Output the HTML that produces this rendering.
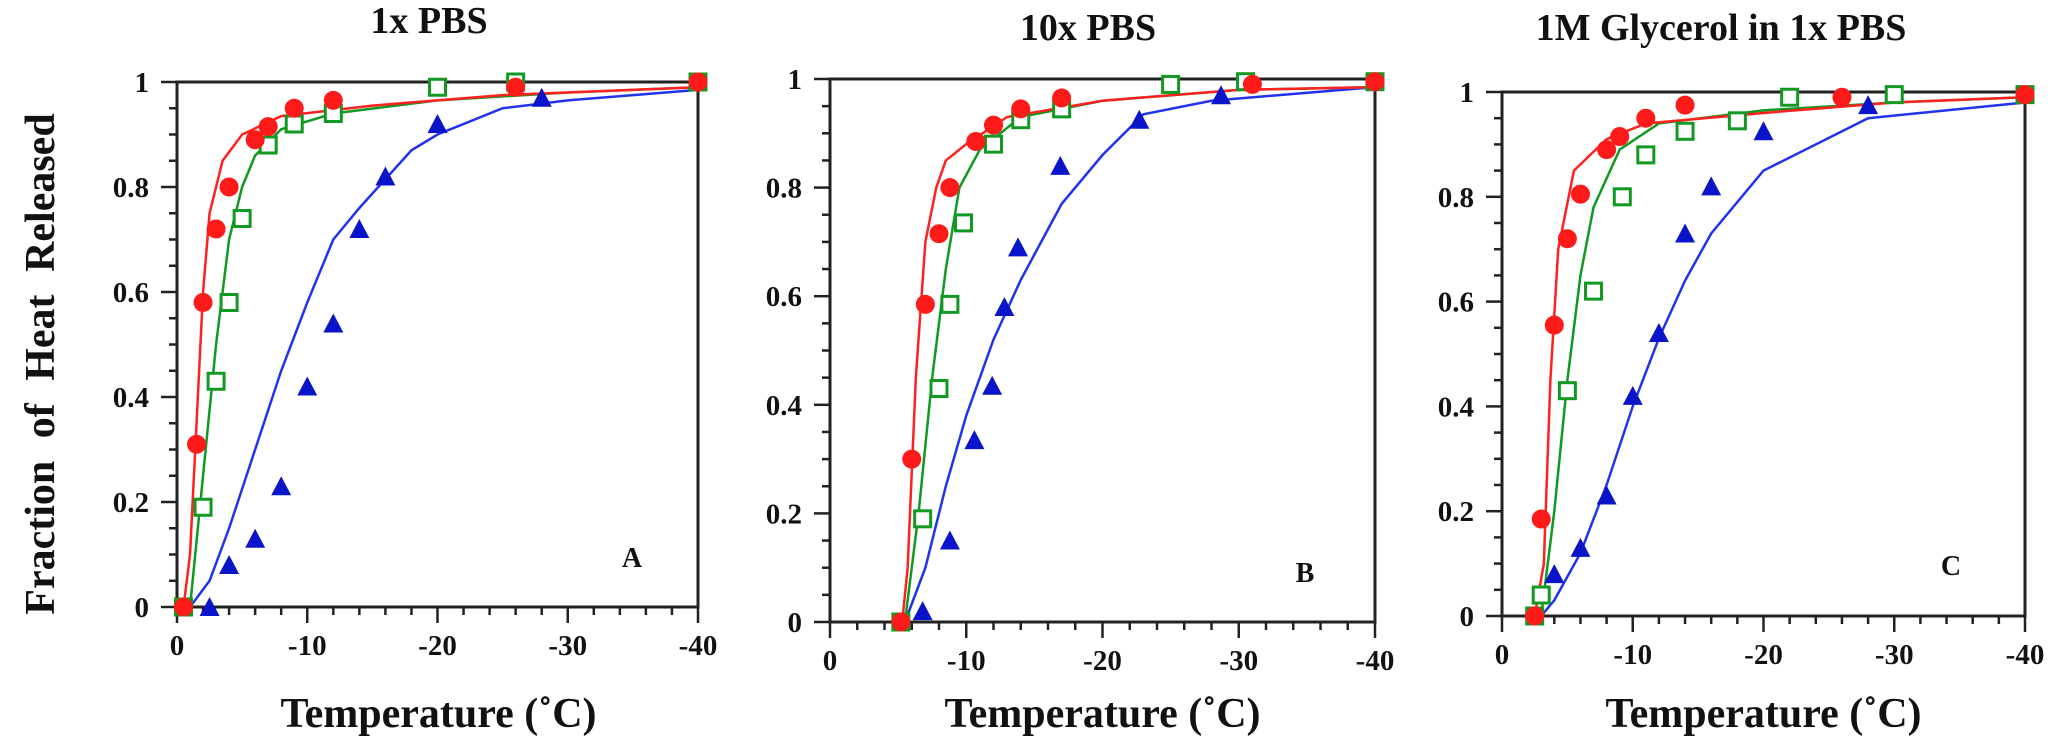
<!DOCTYPE html>
<html><head><meta charset="utf-8">
<style>
html,body{margin:0;padding:0;background:#fff;}
svg{display:block;}
text{font-family:"Liberation Serif",serif;font-weight:bold;fill:#111;}
</style></head>
<body>
<svg id="chart" width="2066" height="750" viewBox="0 0 2066 750" xmlns="http://www.w3.org/2000/svg">
<text transform="translate(54,364) rotate(-90)" text-anchor="middle" font-size="42" word-spacing="12">Fraction of Heat Released</text>
</svg>
<script>
// Panel A: 1x PBS
const aRedX=[-0.5,-1.5,-2,-3,-4,-6,-7,-9,-12,-26,-40];
const aRedY=[0,0.31,0.58,0.72,0.80,0.89,0.915,0.95,0.965,0.99,1.0];
const aGreenX=[-0.5,-2,-3,-4,-5,-7,-9,-12,-20,-26,-40];
const aGreenY=[0,0.19,0.43,0.58,0.74,0.88,0.92,0.94,0.99,1.0,1.0];
const aBlueX=[-2.5,-4,-6,-8,-10,-12,-14,-16,-20,-28];
const aBlueY=[0,0.08,0.13,0.23,0.42,0.54,0.72,0.82,0.92,0.97];
const aRedFitX=[-0.5,-1,-1.5,-2,-2.5,-3.5,-5,-8,-15,-25,-40];
const aRedFitY=[0,0.1,0.35,0.6,0.75,0.85,0.9,0.935,0.955,0.975,0.99];
const aGreenFitX=[-1,-2,-3,-4,-5,-6,-8,-12,-20,-30,-40];
const aGreenFitY=[0,0.25,0.5,0.7,0.8,0.86,0.91,0.94,0.965,0.98,0.99];
const aBlueFitX=[-1,-2.5,-4,-6,-8,-10,-12,-14,-18,-20,-25,-30,-40];
const aBlueFitY=[0,0.05,0.15,0.3,0.45,0.58,0.7,0.76,0.87,0.9,0.95,0.965,0.985];
// Panel B: 10x PBS
const bRedX=[-5.2,-6,-7,-8,-8.8,-10.7,-12,-14,-17,-31,-40];
const bRedY=[0,0.30,0.585,0.715,0.80,0.885,0.915,0.945,0.965,0.99,0.995];
const bGreenX=[-5.2,-6.8,-8,-8.8,-9.8,-12,-14,-17,-25,-30.5,-40];
const bGreenY=[0,0.19,0.43,0.585,0.735,0.88,0.925,0.945,0.99,0.995,0.995];
const bBlueX=[-6.8,-8.8,-10.6,-11.9,-12.8,-13.8,-16.9,-22.7,-28.7];
const bBlueY=[0.02,0.15,0.335,0.435,0.58,0.69,0.84,0.925,0.97];
const bRedFitX=[-5.3,-5.7,-6.3,-7,-7.8,-8.5,-10,-13,-20,-30,-40];
const bRedFitY=[0,0.1,0.45,0.7,0.8,0.85,0.88,0.93,0.96,0.98,0.985];
const bGreenFitX=[-5.5,-6.5,-7.5,-8.5,-9.5,-11,-14,-20,-30,-40];
const bGreenFitY=[0,0.2,0.45,0.65,0.8,0.87,0.93,0.96,0.98,0.985];
const bBlueFitX=[-5.5,-7,-8.5,-10,-12,-14,-17,-20,-23,-28,-40];
const bBlueFitY=[0,0.1,0.25,0.38,0.52,0.63,0.77,0.86,0.935,0.96,0.985];
// Panel C: 1M Glycerol in 1x PBS
const cRedX=[-2.5,-3,-4,-5,-6,-8,-9,-11,-14,-26,-40];
const cRedY=[0,0.185,0.555,0.72,0.805,0.89,0.915,0.95,0.975,0.99,0.995];
const cGreenX=[-2.5,-3,-5,-7,-9.2,-11,-14,-18,-22,-30,-40];
const cGreenY=[0,0.04,0.43,0.62,0.80,0.88,0.925,0.945,0.99,0.995,0.995];
const cBlueX=[-4,-6,-8,-10,-12,-14,-16,-20,-28];
const cBlueY=[0.08,0.13,0.23,0.42,0.54,0.73,0.82,0.925,0.975];
const cRedFitX=[-2.5,-3.2,-3.7,-4.3,-5.5,-8,-11,-20,-30,-40];
const cRedFitY=[0,0.1,0.45,0.7,0.85,0.91,0.94,0.96,0.98,0.99];
const cGreenFitX=[-3,-4,-5,-6,-7,-9,-12,-20,-30,-40];
const cGreenFitY=[0,0.2,0.45,0.65,0.78,0.89,0.94,0.965,0.98,0.99];
const cBlueFitX=[-3,-4,-6,-8,-10,-12,-14,-16,-20,-28,-40];
const cBlueFitY=[0,0.03,0.12,0.25,0.4,0.53,0.64,0.73,0.85,0.95,0.98];

const xTicks=[0,-10,-20,-30,-40];
const xTickLabels=["0","-10","-20","-30","-40"];
const yTicks=[0,0.2,0.4,0.6,0.8,1];
const yTickLabels=["0","0.2","0.4","0.6","0.8","1"];

const NS="http://www.w3.org/2000/svg";
const svg=document.getElementById('chart');
function mk(tag,attrs,parent){const e=document.createElementNS(NS,tag);for(const k in attrs)e.setAttribute(k,attrs[k]);(parent||svg).appendChild(e);return e;}

const panels=[
 {key:'a',title:'1x PBS',letter:'A',L:177,R:698,T:82,B:607,tx:429,ty:33,lx:632,ly:557,
  red:[aRedX,aRedY],green:[aGreenX,aGreenY],blue:[aBlueX,aBlueY],rf:[aRedFitX,aRedFitY],gf:[aGreenFitX,aGreenFitY],bf:[aBlueFitX,aBlueFitY]},
 {key:'b',title:'10x PBS',letter:'B',L:830,R:1375,T:79,B:622,tx:1088,ty:40,lx:1305,ly:572,
  red:[bRedX,bRedY],green:[bGreenX,bGreenY],blue:[bBlueX,bBlueY],rf:[bRedFitX,bRedFitY],gf:[bGreenFitX,bGreenFitY],bf:[bBlueFitX,bBlueFitY]},
 {key:'c',title:'1M Glycerol in 1x PBS',letter:'C',L:1502,R:2025,T:92,B:616,tx:1721,ty:40,lx:1951,ly:565,
  red:[cRedX,cRedY],green:[cGreenX,cGreenY],blue:[cBlueX,cBlueY],rf:[cRedFitX,cRedFitY],gf:[cGreenFitX,cGreenFitY],bf:[cBlueFitX,cBlueFitY]}
];

panels.forEach(p=>{
  const g=mk('g',{});
  
  
  const sx=v=>p.L+(v/-40)*(p.R-p.L);
  const sy=v=>p.B-v*(p.B-p.T);
  const t=mk('text',{x:p.tx,y:p.ty,'text-anchor':'middle','font-size':38},g);
  t.textContent=p.title;
  
  
  // frame
  const fr=mk('rect',{x:p.L,y:p.T,width:p.R-p.L,height:p.B-p.T,fill:'none',stroke:'#222','stroke-width':3},g);
  
  
  // x ticks
  for(let v=0;v>=-40;v-=2){
    const major=(v%10===0);
    mk('line',{x1:sx(v),x2:sx(v),y1:p.B,y2:p.B+(major?16:8),stroke:'#222','stroke-width':2.5},g);
  }
  xTicks.forEach((v,i)=>{
    const tl=mk('text',{x:sx(v),y:p.B+48,'text-anchor':'middle','font-size':29},g);
    tl.textContent=xTickLabels[i];
    
    
  });
  for(let i=0;i<=20;i++){
    const v=i*0.05;const major=(i%4===0);
    mk('line',{x1:p.L,x2:p.L-(major?16:8),y1:sy(v),y2:sy(v),stroke:'#222','stroke-width':2.5},g);
  }
  yTicks.forEach((v,i)=>{
    const tl=mk('text',{x:p.L-28,y:sy(v)+10,'text-anchor':'end','font-size':29},g);
    tl.textContent=yTickLabels[i];
    
    
  });
  const xt=mk('text',{x:(p.L+p.R)/2+(p.key==='a'?1:0),y:727,'text-anchor':'middle','font-size':42},g);
  xt.textContent='Temperature (˚C)';
  
  
  const lt=mk('text',{x:p.lx,y:p.ly+10,'text-anchor':'middle','font-size':28},g);
  lt.textContent=p.letter;
  
  
  // fit lines
  [[p.bf,'#2233ee','blue-fit-line'],[p.gf,'#119922','green-fit-line'],[p.rf,'#ff2020','red-fit-line']].forEach(([d,c,n])=>{
    const pts=d[0].map((x,i)=>sx(x)+','+sy(d[1][i])).join(' ');
    const pl=mk('polyline',{points:pts,fill:'none',stroke:c,'stroke-width':2.5},g);
    
    
  });
  // blue triangles
  p.blue[0].forEach((x,i)=>{
    const cx=sx(x),cy=sy(p.blue[1][i]);
    const tr=mk('polygon',{points:`${cx-10},${cy+9} ${cx+10},${cy+9} ${cx},${cy-10}`,fill:'#0a14c8'},g);
    
    
  });
  // green squares
  p.green[0].forEach((x,i)=>{
    const cx=sx(x),cy=sy(p.green[1][i]);
    const r=mk('rect',{x:cx-8,y:cy-8,width:16,height:16,fill:'#fff',stroke:'#119922','stroke-width':3},g);
    
    
  });
  // red circles
  p.red[0].forEach((x,i)=>{
    const c=mk('circle',{cx:sx(x),cy:sy(p.red[1][i]),r:9.5,fill:'#ff1a1a'},g);
    
    
  });
});
</script>
</body></html>
